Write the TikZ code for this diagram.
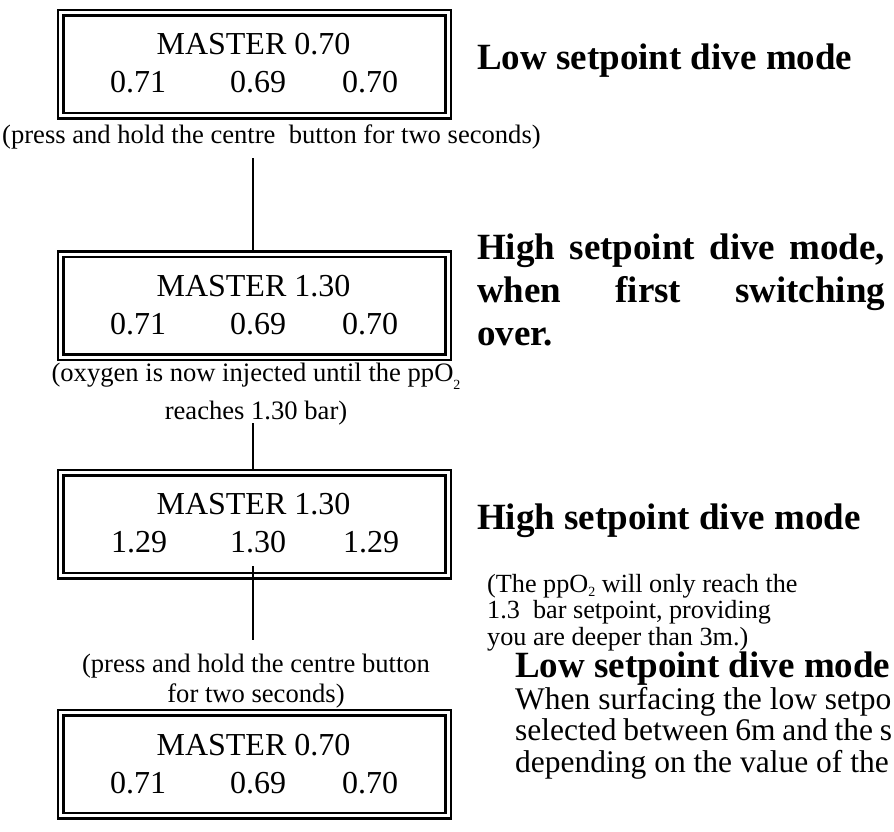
\documentclass[tikz,border=0pt]{standalone}
\usepackage{fontspec}
\setmainfont{Liberation Serif}
\usetikzlibrary{calc}
\tikzset{
  lcdbox/.style={draw, line width=2.5pt, double, double distance=3pt,
    minimum width=387.5pt, minimum height=103pt, inner sep=0pt, outer sep=0pt},
  lcdtxt/.style={font=\fontsize{32}{38}\selectfont, inner sep=0pt, anchor=base},
  lcdnum/.style={lcdtxt, anchor=base west},
  note/.style={font=\fontsize{26.6}{30}\selectfont, inner sep=0pt, anchor=base},
  small/.style={font=\fontsize{26.2}{27}\selectfont, inner sep=0pt, anchor=base west},
  heading/.style={font=\fontsize{37}{43}\selectfont\bfseries, inner sep=0pt, anchor=base west},
  body/.style={font=\fontsize{31.5}{36}\selectfont, inner sep=0pt, anchor=base west},
  link/.style={line width=2pt},
}
\newcommand{\subtwo}[1]{\raisebox{-#1}{\fontsize{14}{14}\selectfont 2}}
\begin{document}
\begin{tikzpicture}[x=1pt,y=-1pt]
\useasboundingbox (0,0) rectangle (894,832);
\clip (0,0) rectangle (894,832);
% boxes
\node[lcdbox] (b1) at (254.25,64.4) {};
\node[lcdbox] (b2) at (254.25,305.6) {};
\node[lcdbox] (b3) at (254.25,524) {};
\node[lcdbox] (b4) at (254.25,764.3) {};
% box 1
\node[lcdtxt] (m1) at (253.5,55) {MASTER 0.70};
\node[lcdnum] (v1a) at (110,93) {0.71};
\node[lcdnum] (v1b) at (230,93) {0.69};
\node[lcdnum] (v1c) at (342,93) {0.70};
% box 2
\node[lcdtxt] (m2) at (253.5,296.5) {MASTER 1.30};
\node[lcdnum] (v2a) at (110,334.5) {0.71};
\node[lcdnum] (v2b) at (230,334.5) {0.69};
\node[lcdnum] (v2c) at (342,334.5) {0.70};
% box 3
\node[lcdtxt] (m3) at (253.5,514.5) {MASTER 1.30};
\node[lcdnum] (v3a) at (111,552.5) {1.29};
\node[lcdnum] (v3b) at (230,552.5) {1.30};
\node[lcdnum] (v3c) at (343,552.5) {1.29};
% box 4
\node[lcdtxt] (m4) at (253.5,755) {MASTER 0.70};
\node[lcdnum] (v4a) at (110,793) {0.71};
\node[lcdnum] (v4b) at (230,793) {0.69};
\node[lcdnum] (v4c) at (342,793) {0.70};
% notes on the left
\node[note, anchor=base west] (p1) at (2,144) {(press and hold the centre\ \ button for two seconds)};
\node[note] (o1) at (256,381) {(oxygen is now injected until the ppO\subtwo{8pt}};
\node[note] (o2) at (256,419) {reaches 1.30 bar)};
\node[note] (p2) at (256,672) {(press and hold the centre button};
\node[note] (p3) at (256,702) {for two seconds)};
% connectors
\coordinate (l1a) at (253.3,158);
\coordinate (l2a) at (253.3,423);
\coordinate (l3a) at (253.3,566);
\coordinate (l3b) at (253.3,640);
\draw[link] (l1a) -- ($(l1a |- b2.north)+(0,-2.75)$);
\draw[link] (l2a) -- ($(l2a |- b3.north)+(0,-2.75)$);
\draw[link] (l3a) -- (l3b);
% headings on the right
\node[heading] (h1) at (477,70) {Low setpoint dive mode};
\node[heading] (h2a) at (477,259) {\makebox[408pt][s]{High setpoint dive mode,}};
\node[heading] (h2b) at (477,302) {\makebox[408pt][s]{when first switching}};
\node[heading] (h2c) at (477,345) {over.};
\node[heading] (h3) at (477,529) {High setpoint dive mode};
\node[small] (n1) at (487,592) {(The ppO\subtwo{4pt} will only reach the};
\node[small] (n2) at (487,618.5) {1.3\ \ bar setpoint, providing};
\node[small] (n3) at (487,645) {you are deeper than 3m.)};
\node[heading] (h4) at (515,677.5) {Low setpoint dive mode};
\node[body] (t1) at (515,709.5) {When surfacing the low setpo};
\node[body] (t2) at (515,740) {\makebox[377pt][s]{selected between 6m and the s}};
\node[body] (t3) at (515,772) {depending on the value of the};
\end{tikzpicture}
\end{document}
